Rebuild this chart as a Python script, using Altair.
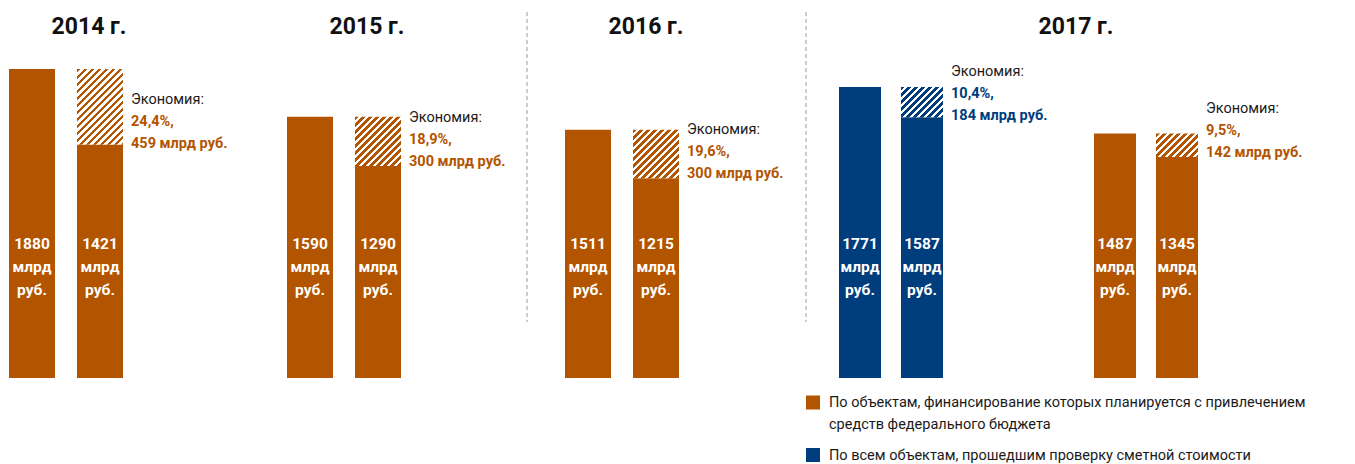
import altair as alt
import pandas as pd

# ---------------- data ----------------
YEARS = ["2014 г.", "2015 г.", "2016 г.", "2017 г."]
PLANNED = [1880, 1590, 1511, 1771, 1487]      # first bar of each pair
FINAL = [1421, 1290, 1215, 1587, 1345]        # second bar (after check)
SAVING_PCT = ["24,4%,", "18,9%,", "19,6%,", "10,4%,", "9,5%,"]
SAVING_ABS = ["459 млрд руб.", "300 млрд руб.", "300 млрд руб.", "184 млрд руб.", "142 млрд руб."]
ECONOMY = "Экономия:"
UNIT = "млрд\nруб."
LEGEND_LABELS = [
    "По объектам, финансирование которых планируется с привлечением\nсредств федерального бюджета",
    "По всем объектам, прошедшим проверку сметной стоимости",
]

# ---------------- style ----------------
ORANGE = "#B35400"
BLUE = "#003D7C"
FONT = "Roboto"
H = 318
YMAX = 1935
PERIOD = 7.0


def hatch_gradient(w, h, color):
    s = w * (w + h) / (w * w + h * h)
    dt = PERIOD / (w + h)
    stops = []
    k = 0
    while k * dt < 1:
        a = k * dt
        b = min(1.0, a + dt / 2)
        c = min(1.0, a + dt)
        stops += [alt.GradientStop(color=color, offset=a), alt.GradientStop(color=color, offset=b),
                  alt.GradientStop(color="white", offset=b), alt.GradientStop(color="white", offset=c)]
        k += 1
    return alt.LinearGradient(gradient="linear", stops=stops, x1=0, y1=0, x2=s, y2=s * h / w)


def panel(i, width, step, bw, color, nudge, title=None, tx=0, divider=None, legend=False):
    pi = (step - bw) / step
    po = max(0.0, (width / step - (2 - pi)) / 2)
    xs = alt.Scale(domain=["a", "b"], paddingInner=pi, paddingOuter=po, align=0)
    ys = alt.Scale(domain=[0, YMAX])
    bars = pd.DataFrame({
        "bar": ["a", "b"],
        "value": [PLANNED[i], FINAL[i]],
        "label": [f"{PLANNED[i]}\n{UNIT}", f"{FINAL[i]}\n{UNIT}"],
    })
    sav = pd.DataFrame({
        "bar": ["b"], "low": [FINAL[i]], "high": [PLANNED[i]],
        "mid": [(PLANNED[i] + FINAL[i]) / 2], "pct": [SAVING_PCT[i]], "abs": [SAVING_ABS[i]],
    })
    X = alt.X("bar:N", scale=xs, axis=None)
    Xr = alt.X("bar:N", scale=xs, axis=None, bandPosition=1)
    Y = alt.Y("value:Q", scale=ys, axis=None)
    h = (PLANNED[i] - FINAL[i]) * H / YMAX

    layers = [
        alt.Chart(bars).mark_bar(color=color).encode(x=X, y=Y),
        alt.Chart(sav).mark_bar(color=hatch_gradient(bw, h, color)).encode(
            x=X, y=alt.Y("low:Q", scale=ys, axis=None), y2="high:Q"),
        alt.Chart(bars).mark_text(color="white", font=FONT, fontSize=15.5, fontWeight="bold",
                                  lineBreak="\n", lineHeight=23, baseline="middle", align="center").encode(
            x=X, y=alt.value(184), text="label:N"),
        alt.Chart(sav).mark_text(color="#1a1a1a", font=FONT, fontSize=14.5, align="left", baseline="middle",
                                 dx=8, dy=nudge - 22, text=ECONOMY).encode(
            x=Xr, y=alt.Y("mid:Q", scale=ys, axis=None)),
        alt.Chart(sav).mark_text(color=color, font=FONT, fontSize=14.5, fontWeight="bold", align="left",
                                 baseline="middle", dx=8, dy=nudge).encode(
            x=Xr, y=alt.Y("mid:Q", scale=ys, axis=None), text="pct:N"),
        alt.Chart(sav).mark_text(color=color, font=FONT, fontSize=14.5, fontWeight="bold", align="left",
                                 baseline="middle", dx=8, dy=nudge + 22).encode(
            x=Xr, y=alt.Y("mid:Q", scale=ys, axis=None), text="abs:N"),
    ]
    if title is not None:
        layers.append(alt.Chart(pd.DataFrame({"t": [title]})).mark_text(
            font=FONT, fontSize=23, fontWeight="bold", color="#111111", align="center", baseline="middle").encode(
            x=alt.value(tx), y=alt.value(-33), text="t:N"))
    if divider is not None:
        layers.append(alt.Chart(sav).mark_rule(color="#BDBDBD", strokeDash=[4, 3], strokeWidth=1.5).encode(
            x=alt.value(divider), y=alt.value(-48), y2=alt.value(262)))
    if legend:
        leg = pd.DataFrame({"label": LEGEND_LABELS})
        for j, (col, ysq, ytx) in enumerate([(ORANGE, 342.5, 343), (BLUE, 395, 396)]):
            sub = leg.iloc[[j]]
            layers.append(alt.Chart(sub).mark_square(size=196, opacity=1, color=col).encode(
                x=alt.value(divider + 7), y=alt.value(ysq)))
            layers.append(alt.Chart(sub).mark_text(font=FONT, fontSize=14.5, color="#1a1a1a", align="left",
                                                   baseline="middle", lineBreak="\n", lineHeight=22).encode(
                x=alt.value(divider + 23), y=alt.value(ytx), text="label:N"))
    return alt.layer(*layers).properties(width=width, height=H)


p14 = panel(0, 118, 68, 46, ORANGE, 15, title=YEARS[0], tx=80)
p15 = panel(1, 118, 68, 46, ORANGE, -1.5, title=YEARS[1], tx=80)
p16 = panel(2, 114, 68, 46, ORANGE, -2.5, title=YEARS[2], tx=81, divider=-38)
p17a = panel(3, 104, 62, 42, BLUE, -8.5, title=YEARS[3], tx=237, divider=-33, legend=True)
p17b = panel(4, 104, 62, 42, ORANGE, -14.5)
p17 = alt.hconcat(p17a, p17b, spacing=151, bounds="flush").resolve_scale(x="independent")

chart = alt.hconcat(p14, p15, p16, p17, spacing=160, bounds="flush").resolve_scale(
    x="independent"
).properties(
    padding={"left": 8, "top": 10, "right": 0, "bottom": 0}
).configure_view(
    stroke="transparent"
)

chart.save("out.html", embed_options={"renderer": "svg", "actions": False})
